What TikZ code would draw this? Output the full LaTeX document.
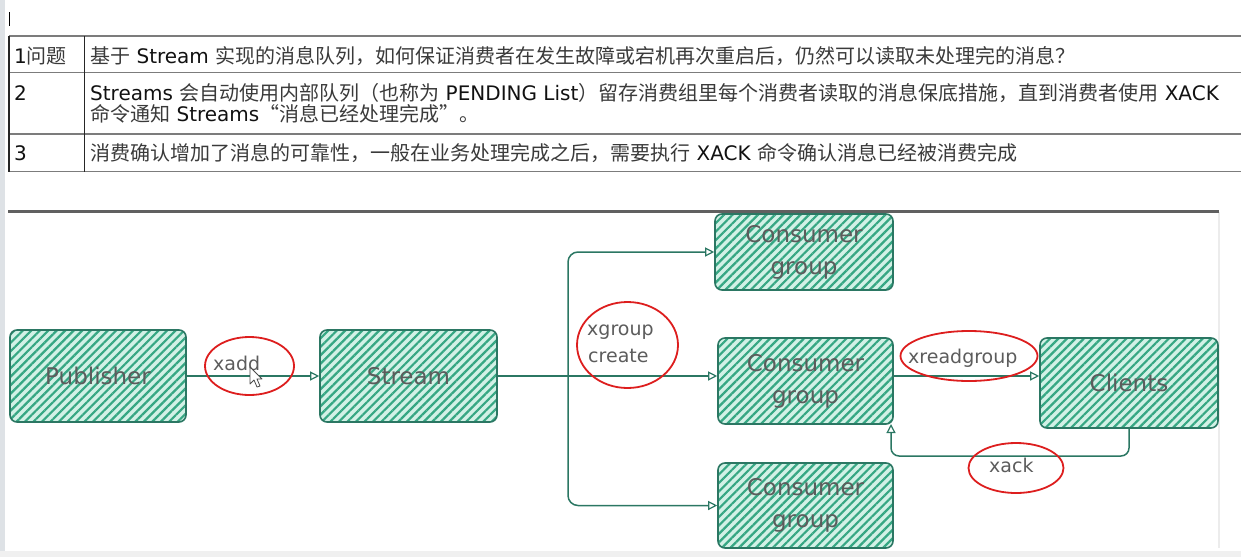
\documentclass[tikz,border=0pt]{standalone}
\usepackage{fontspec}
\setmainfont{DejaVu Sans}
\newfontfamily\cjkf{Noto Sans CJK SC}
\newfontfamily\latf{DejaVu Sans}
\usetikzlibrary{arrows.meta,patterns.meta,shapes.geometric,calc}
\definecolor{tealline}{HTML}{2B7763}
\definecolor{hatchc}{HTML}{36A783}
\definecolor{hfill}{HTML}{D2F1E6}
\definecolor{lblc}{HTML}{5C5C5C}
\definecolor{redc}{HTML}{DD1E1E}
\definecolor{cjkc}{HTML}{3A3A3A}
\definecolor{latc}{HTML}{111111}
\definecolor{rulec}{HTML}{7C7C7C}
\newcommand\lt[1]{{\latf\color{latc}#1}}
\begin{document}
\begin{tikzpicture}[x=1pt,y=-1pt,
  box/.style={draw=tealline, line width=1.6pt, rounded corners=7pt,
    preaction={fill=hfill},
    pattern={Lines[angle=45,distance=6pt,line width=2.2pt]}, pattern color=hatchc,
    text=lblc, font=\latf\fontsize{23}{32}\selectfont, align=center, inner sep=0pt},
  arr/.style={draw=tealline, line width=1.5pt,
    -{Triangle[open,length=9pt,width=9pt,line width=1.2pt]}},
  plainline/.style={draw=tealline, line width=2.2pt},
  ell/.style={ellipse, draw=redc, line width=1.8pt, inner sep=0pt},
  lab/.style={text=lblc, font=\latf\fontsize{19}{27}\selectfont, inner sep=0pt, anchor=base west},
  tt/.style={text=cjkc, font=\cjkf\fontsize{20}{23}\selectfont, inner sep=0pt, anchor=base west},
  tline/.style={draw=rulec, line width=1.6pt},
]
\useasboundingbox (0,0) rectangle (1241,557);
% window decorations
\fill[fill={rgb,255:red,222;green,226;blue,230}] (0,0) rectangle (5,557);
\fill[fill={rgb,255:red,240;green,240;blue,240}] (0,551) rectangle (1241,557);
\draw[draw={rgb,255:red,236;green,236;blue,236}, line width=2pt] (1219,212) -- (1219,548);
\draw[line width=1pt] (9.5,12) -- (9.5,26);

% table
\draw[tline] (9,36) -- (1241,36);
\draw[tline] (9,72.5) -- (1241,72.5);
\draw[tline] (9,134) -- (1241,134);
\draw[tline] (9,171.5) -- (1241,171.5);
\draw[draw=black!85, line width=1.2pt] (9,36) -- (9,171.5);
\draw[draw=black!85, line width=1.2pt] (84.5,36) -- (84.5,171.5);

\node[tt] (r1a) at (14,63) {\lt{1}问题};
\node[tt] (r1b) at (90,63) {基于\lt{\ Stream\ }实现的消息队列，如何保证消费者在发生故障或宕机再次重启后，仍然可以读取未处理完的消息？};
\node[tt] (r2a) at (14,100) {\lt{2}};
\node[tt] (r2b) at (90,100) {\lt{Streams\ }会自动使用内部队列（也称为\lt{\ PENDING List}）留存消费组里每个消费者读取的消息保底措施，直到消费者使用\lt{\ XACK}};
\node[tt] (r2c) at (90,121) {命令通知\lt{\ Streams}“消息已经处理完成”。};
\node[tt] (r3a) at (14,160) {\lt{3}};
\node[tt] (r3b) at (90,160) {消费确认增加了消息的可靠性，一般在业务处理完成之后，需要执行\lt{\ XACK\ }命令确认消息已经被消费完成};

% separator
\draw[draw={rgb,255:red,96;green,96;blue,96}, line width=3pt] (8,211) -- (1219,211);

% boxes
\node[box, minimum width=176pt, minimum height=92pt] (pub) at (98,376) {Publisher};
\node[box, minimum width=177pt, minimum height=92pt] (stream) at (408.5,376) {Stream};
\node[box, minimum width=178pt, minimum height=76pt] (cg1) at (804,252) {Consumer\\group};
\node[box, minimum width=175pt, minimum height=86pt] (cg2) at (805.5,381) {Consumer\\group};
\node[box, minimum width=175pt, minimum height=85pt] (cg3) at (805.5,505.5) {Consumer\\group};
\node[box, minimum width=178pt, minimum height=90pt] (cli) at (1129,383) {Clients};

% connectors
\draw[arr] (pub.east) -- (stream.west);
\coordinate (br) at (568,376);
\draw[plainline] (stream.east) -- (br);
\draw[arr, rounded corners=10pt] (br) |- (cg1.west);
\draw[arr] (br) -- (cg2.west |- br);
\draw[arr, rounded corners=10pt] (br) |- (cg3.west);
\draw[arr] (cg2.east |- br) -- (cli.west |- br);
\coordinate (ackin) at (891,424);
\draw[arr, rounded corners=8pt] (cli.south) -- (1129,456) -| (ackin);

% red ellipses and labels
\node[ell, minimum width=89pt, minimum height=58pt] (e1) at (249.5,366) {};
\node[lab] (t1) at (213,370) {xadd};
\node[ell, minimum width=101pt, minimum height=86pt] (e2) at (627.5,345) {};
\node[lab] (t2a) at (587,335) {xgroup};
\node[lab] (t2b) at (588,362) {create};
\node[ell, minimum width=137pt, minimum height=50pt] (e3) at (969,356) {};
\node[lab] (t3) at (908,363) {xreadgroup};
\node[ell, minimum width=95pt, minimum height=50pt] (e4) at (1016,468) {};
\node[lab] (t4) at (989,472) {xack};

% mouse pointer
\filldraw[fill=white, draw=black!70, line width=0.8pt, line join=round]
  (250,367) -- (250,384) -- (254,380) -- (257,387) -- (260,386) -- (257,379) -- (262,379) -- cycle;
\end{tikzpicture}
\end{document}
